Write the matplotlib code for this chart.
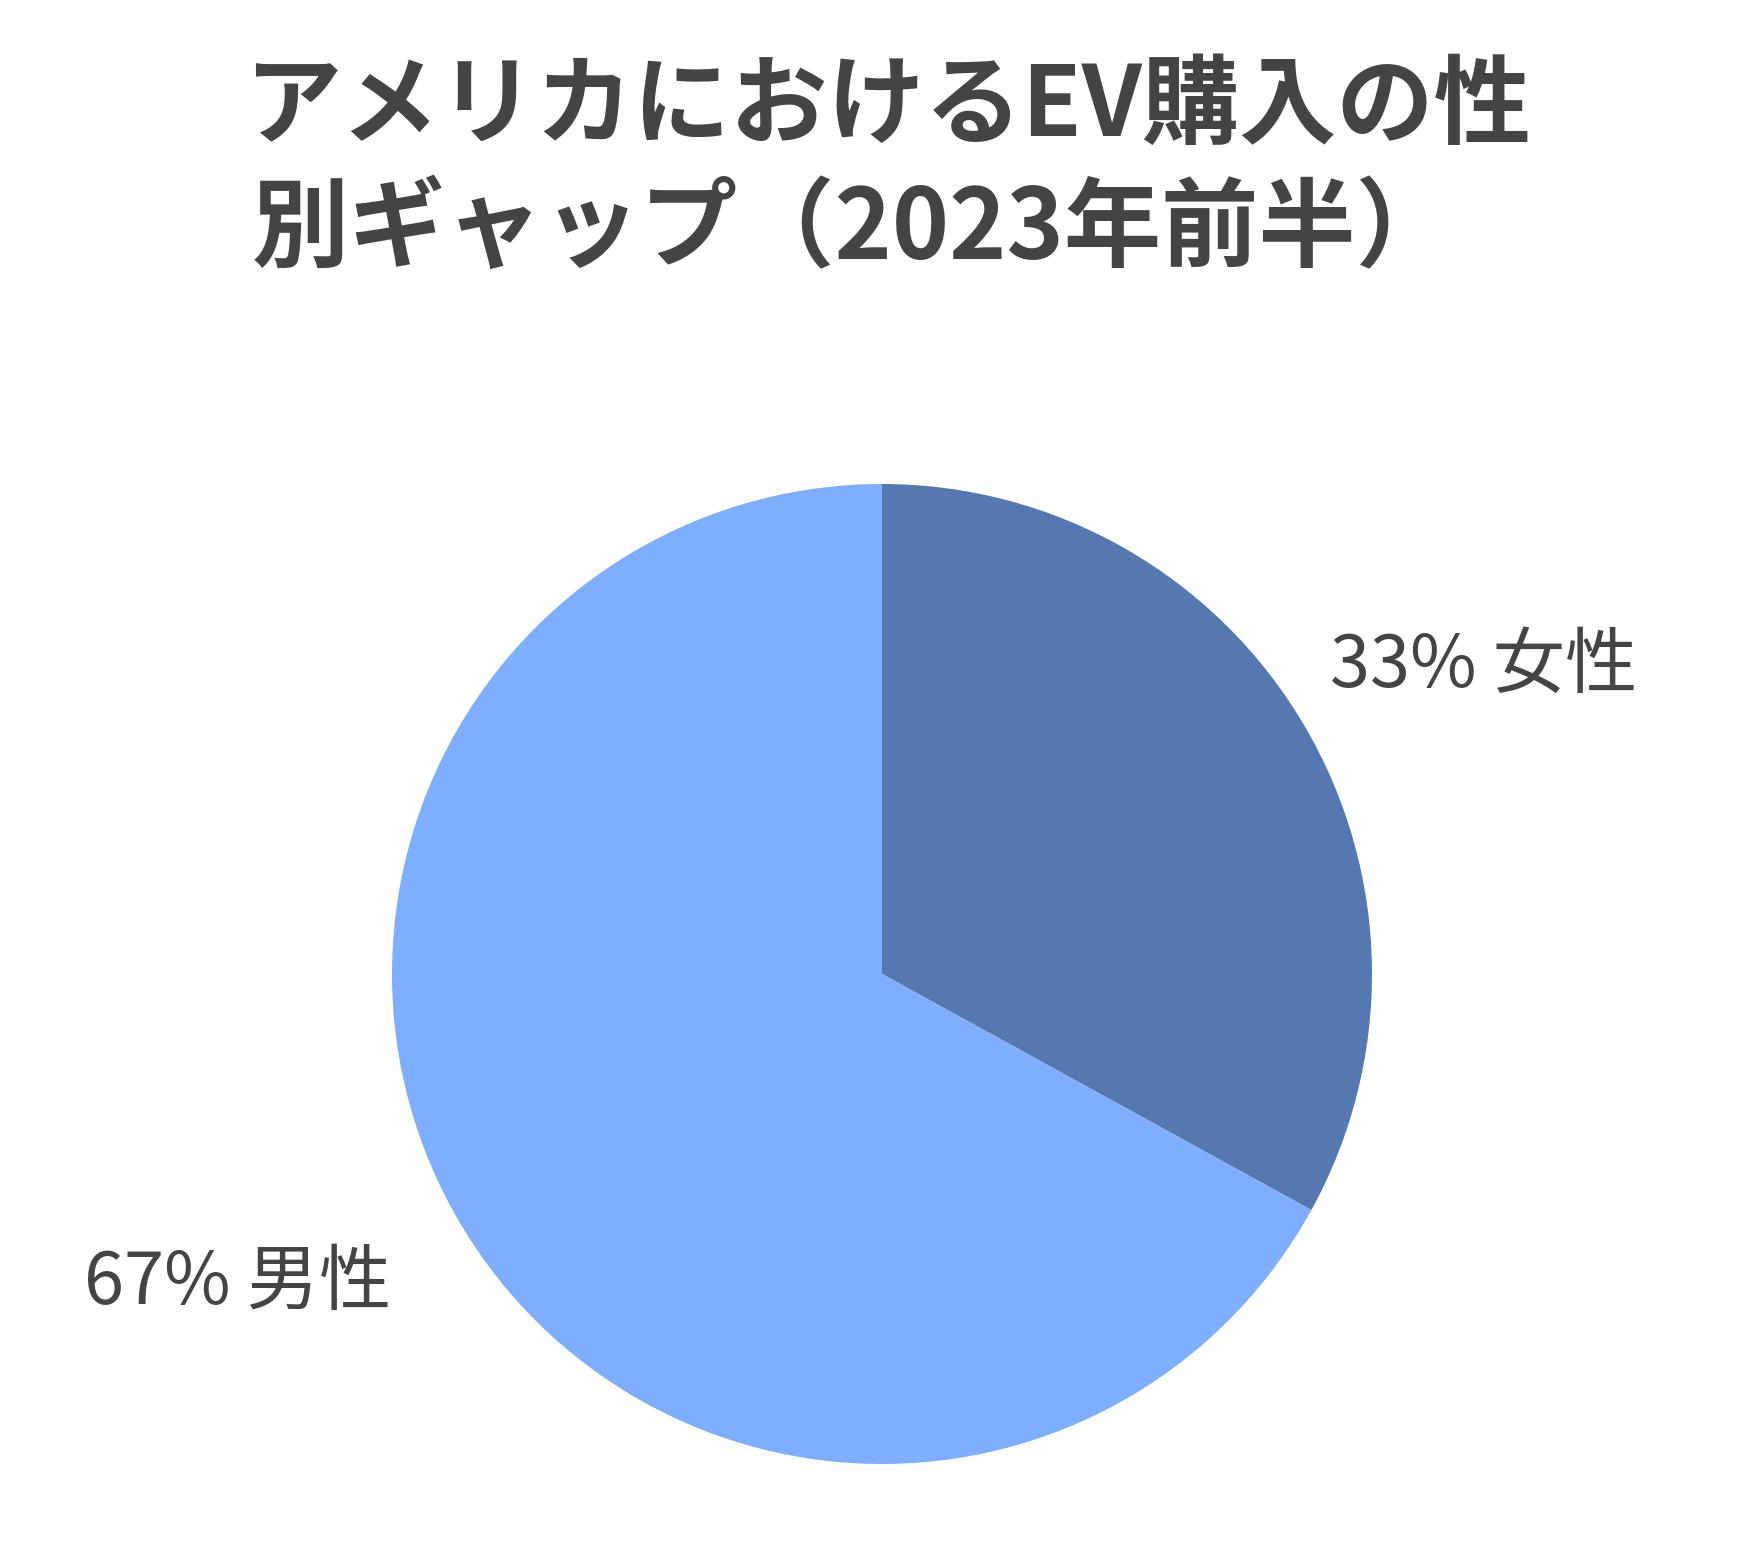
import matplotlib
matplotlib.use("Agg")
import matplotlib.pyplot as plt

plt.rcParams['font.family'] = ['Noto Sans CJK JP', 'DejaVu Sans']

labels = ["女性", "男性"]
values = [33, 67]
colors = ["#5578B0", "#7FAEFF"]
title_lines = ["アメリカにおけるEV購入の性", "別ギャップ（2023年前半）"]

W, H = 1760, 1567
fig = plt.figure(figsize=(W/100, H/100), dpi=100)
ax = fig.add_axes([0, 0, 1, 1])
ax.set_xlim(0, W); ax.set_ylim(0, H); ax.axis('off')

cx, cy, r = 882, H - 974, 490
ax.pie(values, colors=colors, startangle=90, counterclock=False,
       center=(cx, cy), radius=r, frame=True,
       wedgeprops=dict(linewidth=0))
ax.set_xlim(0, W); ax.set_ylim(0, H); ax.axis('off')

txtc = "#444444"
ax.text(1330, H - 666, f"{values[0]}% {labels[0]}", fontsize=52, color=txtc, ha='left', va='center')
ax.text(84, H - 1283, f"{values[1]}% {labels[1]}", fontsize=52, color=txtc, ha='left', va='center')

ax.text(887, H - 107, title_lines[0], fontsize=70, fontweight='bold', color=txtc, ha='center', va='center')
ax.text(853, H - 230, title_lines[1], fontsize=70, fontweight='bold', color=txtc, ha='center', va='center')

fig.savefig("out.png", dpi=100, facecolor='white')
